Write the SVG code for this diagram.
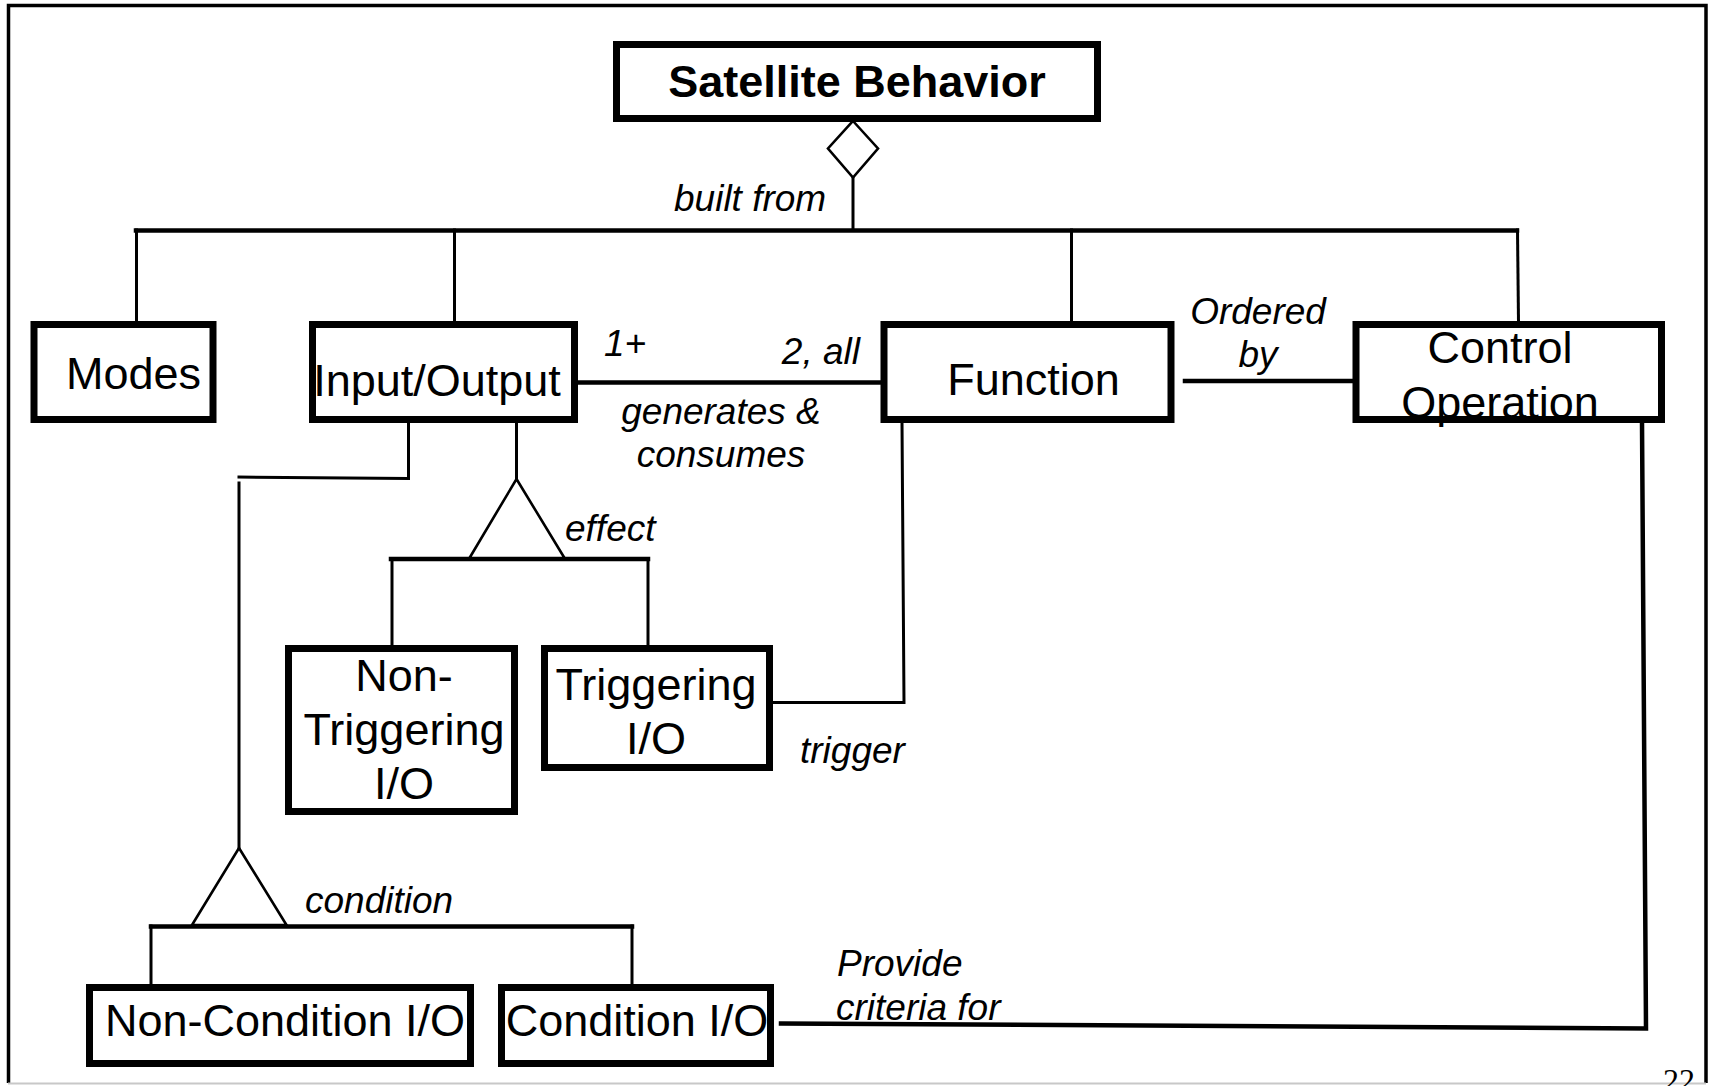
<svg xmlns="http://www.w3.org/2000/svg" width="1713" height="1086" viewBox="0 0 1713 1086">
  <style>
    .box { fill: #fff; stroke: #000; stroke-width: 7; }
    .name { font-family: "Liberation Sans", Arial, sans-serif; font-size: 45px; fill: #000; text-anchor: middle; }
    .title { font-weight: bold; }
    .lab { font-family: "Liberation Sans", Arial, sans-serif; font-size: 37px; font-style: italic; fill: #000; }
    .ln { stroke: #000; stroke-width: 3; fill: none; stroke-linecap: square; }
    .thk { stroke-width: 4.5; }
    .sym { stroke: #000; stroke-width: 2.6; fill: #fff; stroke-linejoin: miter; }
  </style>

  <!-- page frame -->
  <rect x="0" y="0" width="1713" height="1086" fill="#fff"/>
  <path d="M8.5 1083 V5.5 H1706 V1083" fill="none" stroke="#000" stroke-width="3.5"/>
  <line x1="8" y1="1083.5" x2="1706" y2="1083.5" stroke="#c8c8c8" stroke-width="2"/>

  <!-- connectors -->
  <g id="connectors">
    <!-- aggregation: Satellite Behavior built from its parts -->
    <line class="ln" x1="853" y1="178" x2="853" y2="230"/>
    <line class="ln thk" x1="136" y1="230.5" x2="1517" y2="230.5"/>
    <line class="ln" x1="136.5" y1="230" x2="136.5" y2="322"/>
    <line class="ln" x1="454.5" y1="230" x2="454.5" y2="322"/>
    <line class="ln" x1="1071.5" y1="230" x2="1071.5" y2="322"/>
    <line class="ln" x1="1517.5" y1="230" x2="1518.5" y2="322"/>
    <polygon class="sym" points="853,121 878,148.5 853,177.5 828,148.5"/>

    <!-- Input/Output generates & consumes, Function -->
    <line class="ln thk" x1="578" y1="382.5" x2="881" y2="382.5"/>

    <!-- Function ordered by Control Operation -->
    <line class="ln thk" x1="1185" y1="381" x2="1352" y2="381"/>

    <!-- effect specialization -->
    <line class="ln" x1="516.5" y1="422" x2="516.5" y2="479"/>
    <line class="ln thk" x1="391" y1="559" x2="648" y2="559"/>
    <line class="ln" x1="392" y1="559" x2="392" y2="646"/>
    <line class="ln" x1="648" y1="559" x2="648" y2="646"/>
    <polygon class="sym" points="516.5,479 564.5,558 469.5,558"/>

    <!-- trigger: Triggering I/O to Function -->
    <polyline class="ln" points="772,702.5 904,702.5 902,422"/>

    <!-- condition specialization -->
    <polyline class="ln" points="408.5,422 408.5,478.5 239,477"/>
    <line class="ln" x1="239" y1="483" x2="239" y2="848"/>
    <line class="ln thk" x1="151" y1="926.5" x2="632" y2="926.5"/>
    <line class="ln" x1="151" y1="926" x2="151" y2="986"/>
    <line class="ln" x1="632" y1="926" x2="632" y2="986"/>
    <polygon class="sym" points="239,848 286.5,925 192,925"/>

    <!-- Condition I/O provides criteria for Control Operation -->
    <polyline class="ln thk" points="781,1023.5 1646,1028.5 1642,422"/>
  </g>

  <!-- nodes -->
  <g id="satellite-behavior">
    <rect class="box" x="616.5" y="44.5" width="481" height="74"/>
    <text class="name title" x="857" y="97">Satellite Behavior</text>
  </g>
  <g id="modes">
    <rect class="box" x="34" y="324.5" width="179" height="95"/>
    <text class="name" x="133.5" y="389">Modes</text>
  </g>
  <g id="input-output">
    <rect class="box" x="312.5" y="324.5" width="262" height="95"/>
    <text class="name" x="437" y="396">Input/Output</text>
  </g>
  <g id="function">
    <rect class="box" x="884" y="324.5" width="287" height="95"/>
    <text class="name" x="1033.5" y="395">Function</text>
  </g>
  <g id="control-operation">
    <rect class="box" x="1356" y="324.5" width="305.5" height="95"/>
    <text class="name" x="1500" y="363">Control</text>
    <text class="name" x="1500" y="418">Operation</text>
  </g>
  <g id="non-triggering-io">
    <rect class="box" x="288.5" y="648.5" width="226" height="163"/>
    <text class="name" x="404" y="691">Non-</text>
    <text class="name" x="404" y="745">Triggering</text>
    <text class="name" x="404" y="799">I/O</text>
  </g>
  <g id="triggering-io">
    <rect class="box" x="544.5" y="648.5" width="225" height="119"/>
    <text class="name" x="656" y="700">Triggering</text>
    <text class="name" x="656" y="754">I/O</text>
  </g>
  <g id="non-condition-io">
    <rect class="box" x="89.5" y="987.5" width="381" height="76"/>
    <text class="name" x="285" y="1036">Non-Condition I/O</text>
  </g>
  <g id="condition-io">
    <rect class="box" x="501.5" y="987.5" width="269" height="76"/>
    <text class="name" x="637" y="1036">Condition I/O</text>
  </g>

  <!-- connector labels -->
  <g id="labels">
    <text class="lab" x="674" y="211">built from</text>
    <text class="lab" x="604" y="356">1+</text>
    <text class="lab" x="860" y="364" text-anchor="end">2, all</text>
    <text class="lab" x="721" y="424" text-anchor="middle">generates &amp;</text>
    <text class="lab" x="721" y="467" text-anchor="middle">consumes</text>
    <text class="lab" x="1258" y="324" text-anchor="middle">Ordered</text>
    <text class="lab" x="1258" y="367" text-anchor="middle">by</text>
    <text class="lab" x="565" y="541">effect</text>
    <text class="lab" x="800" y="763">trigger</text>
    <text class="lab" x="305" y="913">condition</text>
    <text class="lab" x="837" y="976">Provide</text>
    <text class="lab" x="836" y="1020">criteria for</text>
  </g>

  <!-- page number, partly below the page edge -->
  <text x="1679" y="1091" font-family="'Liberation Serif', 'Times New Roman', serif" font-size="32" text-anchor="middle">22</text>
</svg>
